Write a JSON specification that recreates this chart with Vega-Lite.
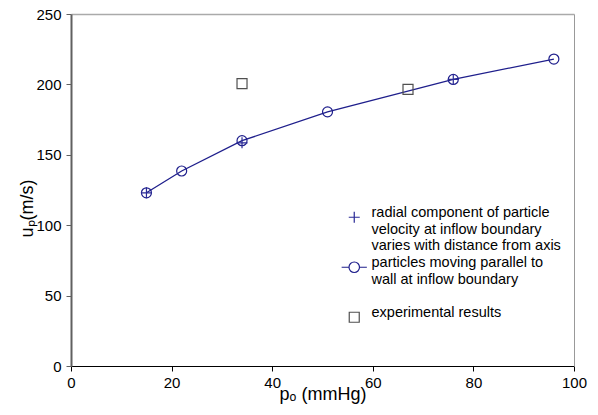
{
  "$schema": "https://vega.github.io/schema/vega-lite/v6.json",
  "width": 503,
  "height": 352,
  "autosize": {"type": "none"},
  "padding": {"left": 71, "top": 14, "right": 24, "bottom": 49},
  "background": "white",
  "config": {"view": {"stroke": null}, "font": "Liberation Sans",
    "legend": {
      "title": null, "orient": "none", "legendX": 276, "legendY": 196,
      "labelFont": "Liberation Sans", "labelFontSize": 14.5, "labelColor": "black",
      "labelLimit": 400, "labelBaseline": "alphabetic", "rowPadding": 2, "labelOffset": 10, "symbolStrokeWidth": 1.2
    }},
  "data": {"values": [
    {"series": "a", "p": 15, "u": 123},
    {"series": "a", "p": 34, "u": 158.5},
    {"series": "a", "p": 76, "u": 203.5},
    {"series": "b", "p": 15, "u": 123},
    {"series": "b", "p": 22, "u": 138.5},
    {"series": "b", "p": 34, "u": 160},
    {"series": "b", "p": 51, "u": 180.5},
    {"series": "b", "p": 76, "u": 203.5},
    {"series": "b", "p": 96, "u": 218},
    {"series": "c", "p": 34, "u": 200.5},
    {"series": "c", "p": 67, "u": 196.5}
  ]},
  "resolve": {"axis": {"x": "independent", "y": "independent"}},
  "layer": [
    {
      "transform": [{"filter": "datum.series == 'b'"}],
      "mark": {"type": "line", "color": "#1F1F8C", "strokeWidth": 1.3},
      "encoding": {
        "x": {"field": "p", "type": "quantitative",
          "scale": {"domain": [0, 100], "nice": false, "zero": false},
          "axis": {"values": [0, 20, 40, 60, 80, 100], "grid": false, "tickSize": 5,
            "labelPadding": 4, "labelFontSize": 15, "labelColor": "black", "labelFont": "Liberation Sans",
            "domainColor": "black", "tickColor": "black", "labelFlush": false,
            "title": "pₒ  (mmHg)", "titleFontSize": 18, "titleFontWeight": "normal", "titleFont": "Liberation Sans",
            "titleColor": "black", "titleBaseline": "alphabetic", "titleY": 33}},
        "y": {"field": "u", "type": "quantitative",
          "scale": {"domain": [0, 250], "nice": false, "zero": false},
          "axis": {"values": [0, 50, 100, 150, 200, 250], "grid": false, "tickSize": 5,
            "labelPadding": 5, "labelFontSize": 15, "labelColor": "black", "labelFont": "Liberation Sans",
            "domainColor": "#606060", "domainWidth": 2, "tickColor": "#606060",
            "title": "uₚ(m/s)", "titleFontSize": 18, "titleFontWeight": "normal", "titleFont": "Liberation Sans",
            "titleColor": "black", "titleAlign": "center", "titleBaseline": "middle", "titleAngle": -90,
            "titleX": -44, "titleY": 194}}
      }
    },
    {
      "transform": [{"filter": "datum.series == 'b'"}],
      "mark": {"type": "point", "shape": "circle", "filled": false, "color": "#1F1F8C", "size": 100, "strokeWidth": 1.2, "opacity": 1},
      "encoding": {
        "x": {"field": "p", "type": "quantitative", "axis": null},
        "y": {"field": "u", "type": "quantitative", "axis": null}
      }
    },
    {
      "transform": [{"filter": "datum.series != 'b'"}],
      "mark": {"type": "point", "filled": false, "strokeWidth": 1.2, "opacity": 1},
      "encoding": {
        "x": {"field": "p", "type": "quantitative",
          "axis": {"orient": "top", "labels": false, "ticks": false, "grid": false, "title": null,
            "domainColor": "#aaaaaa", "domainWidth": 1.5}},
        "y": {"field": "u", "type": "quantitative",
          "axis": {"orient": "right", "labels": false, "ticks": false, "grid": false, "title": null,
            "domainColor": "#999999", "domainWidth": 1}},
        "shape": {"field": "series", "type": "nominal",
          "scale": {"domain": ["a", "b", "c"], "range": ["M-1,0H1M0,-1V1", "M-2.4,0H-1M1,0H2.4M-1,0A1,1 0 1,0 1,0A1,1 0 1,0 -1,0", "square"]},
          "legend": {
            "labelExpr": "datum.value == 'a' ? ['radial component of particle', 'velocity at inflow boundary', 'varies with distance from axis'] : datum.value == 'b' ? ['particles moving parallel to', 'wall at inflow boundary', ''] : 'experimental results'"
          }},
        "color": {"field": "series", "type": "nominal",
          "scale": {"domain": ["a", "b", "c"], "range": ["#2A2A96", "#1F1F8C", "#505050"]},
          "legend": {
            "labelExpr": "datum.value == 'a' ? ['radial component of particle', 'velocity at inflow boundary', 'varies with distance from axis'] : datum.value == 'b' ? ['particles moving parallel to', 'wall at inflow boundary', ''] : 'experimental results'"
          }},
        "size": {"field": "series", "type": "ordinal",
          "scale": {"domain": ["a", "b", "c"], "range": [121, 100, 81]},
          "legend": {
            "labelExpr": "datum.value == 'a' ? ['radial component of particle', 'velocity at inflow boundary', 'varies with distance from axis'] : datum.value == 'b' ? ['particles moving parallel to', 'wall at inflow boundary', ''] : 'experimental results'"
          }}
      }
    }
  ]
}
